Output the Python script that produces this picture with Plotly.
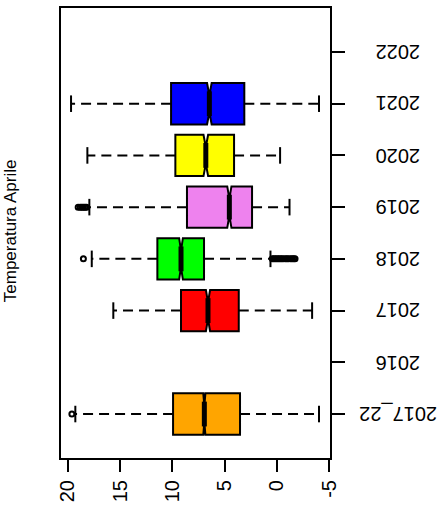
import plotly.graph_objects as go

categories = ["2017_22", "2016", "2017", "2018", "2019", "2020", "2021", "2022"]
positions = [1, 2, 3, 4, 5, 6, 7, 8]

# boxes (years without data are left empty)
box_cats = ["2017_22", "2017", "2018", "2019", "2020", "2021"]
box_pos = [1, 3, 4, 5, 6, 7]
colors = ["#FFA500", "#FF0000", "#00FF00", "#EE82EE", "#FFFF00", "#0000FF"]
q1 = [3.53, 3.65, 6.97, 2.38, 4.10, 3.12]
median = [6.94, 6.59, 9.17, 4.55, 6.80, 6.46]
q3 = [9.93, 9.17, 11.43, 8.60, 9.71, 10.12]
lower_whisker = [-4.02, -3.36, 0.62, -1.20, -0.30, -4.02]
upper_whisker = [19.27, 15.64, 17.70, 17.93, 18.12, 19.68]
notch = [0.10, 0.20, 0.18, 0.20, 0.22, 0.22]

outliers = {
    "2017_22": [19.6],
    "2018": [18.5, 0.45, 0.3, 0.15, 0.0, -0.15, -0.3, -0.45, -0.6, -0.8, -0.95,
             -1.1, -1.3, -1.45, -1.6, -1.73],
    "2019": [18.2, 18.35, 18.5, 18.65, 18.8, 19.0],
}

xticks = [20, 15, 10, 5, 0, -5]

fig = go.Figure()

for i, c in enumerate(box_cats):
    fig.add_trace(go.Box(
        orientation="h",
        y=[box_pos[i]],
        q1=[q1[i]], median=[median[i]], q3=[q3[i]],
        lowerfence=[q1[i]], upperfence=[q3[i]],
        notched=True, notchspan=[notch[i]], notchwidth=0.3,
        width=0.8, whiskerwidth=0,
        fillcolor=colors[i],
        line=dict(color="black", width=2),
        boxpoints=False, showlegend=False, hoverinfo="skip",
    ))

# whiskers (dashed), staples, thick medians
wx, wy, sx, sy, mx, my = [], [], [], [], [], []
for i in range(len(box_cats)):
    p = box_pos[i]
    wx += [q3[i], upper_whisker[i], None, q1[i], lower_whisker[i], None]
    wy += [p, p, None, p, p, None]
    sx += [upper_whisker[i], upper_whisker[i], None, lower_whisker[i], lower_whisker[i], None]
    sy += [p - 0.16, p + 0.16, None, p - 0.16, p + 0.16, None]
    mx += [median[i], median[i], None]
    my += [p - 0.24, p + 0.24, None]

fig.add_trace(go.Scatter(x=wx, y=wy, mode="lines",
                         line=dict(color="black", width=2, dash="10px,6px"),
                         showlegend=False, hoverinfo="skip"))
fig.add_trace(go.Scatter(x=sx, y=sy, mode="lines",
                         line=dict(color="black", width=2),
                         showlegend=False, hoverinfo="skip"))
fig.add_trace(go.Scatter(x=mx, y=my, mode="lines",
                         line=dict(color="black", width=5),
                         showlegend=False, hoverinfo="skip"))

ox, oy = [], []
for c, vals in outliers.items():
    p = positions[categories.index(c)]
    for v in vals:
        ox.append(v)
        oy.append(p)
fig.add_trace(go.Scatter(x=ox, y=oy, mode="markers",
                         marker=dict(symbol="circle-open", size=5, color="black",
                                     line=dict(width=2)),
                         showlegend=False, hoverinfo="skip"))

annotations = [dict(text="Temperatura Aprile", xref="paper", yref="paper",
                    x=0, y=0.504, xshift=-51, xanchor="center", yanchor="middle",
                    textangle=-90, showarrow=False, font=dict(size=17))]
for c, p in zip(categories, positions):
    annotations.append(dict(text=c, xref="paper", yref="y", x=1, y=p, xshift=68,
                            xanchor="center", yanchor="middle", textangle=180,
                            showarrow=False, font=dict(size=20)))

fig.update_layout(
    width=444, height=518,
    margin=dict(l=61, r=114, t=6, b=60),
    paper_bgcolor="white", plot_bgcolor="white",
    font=dict(family="Liberation Sans, Arial, sans-serif", color="black"),
    xaxis=dict(range=[20.64, -5.07], tickvals=xticks, ticktext=[str(v) for v in xticks],
               tickangle=-90, ticks="outside", ticklen=12, tickwidth=2, tickcolor="black",
               showline=True, mirror=True, linecolor="black", linewidth=2,
               showgrid=False, zeroline=False, tickfont=dict(size=20)),
    yaxis=dict(range=[0.15, 8.85], tickvals=positions, showticklabels=False,
               side="right", ticks="outside", ticklen=13, tickwidth=2,
               tickcolor="black", showline=True, mirror=True, linecolor="black",
               linewidth=2, showgrid=False, zeroline=False),
    annotations=annotations,
)

fig.write_html("out.html")
